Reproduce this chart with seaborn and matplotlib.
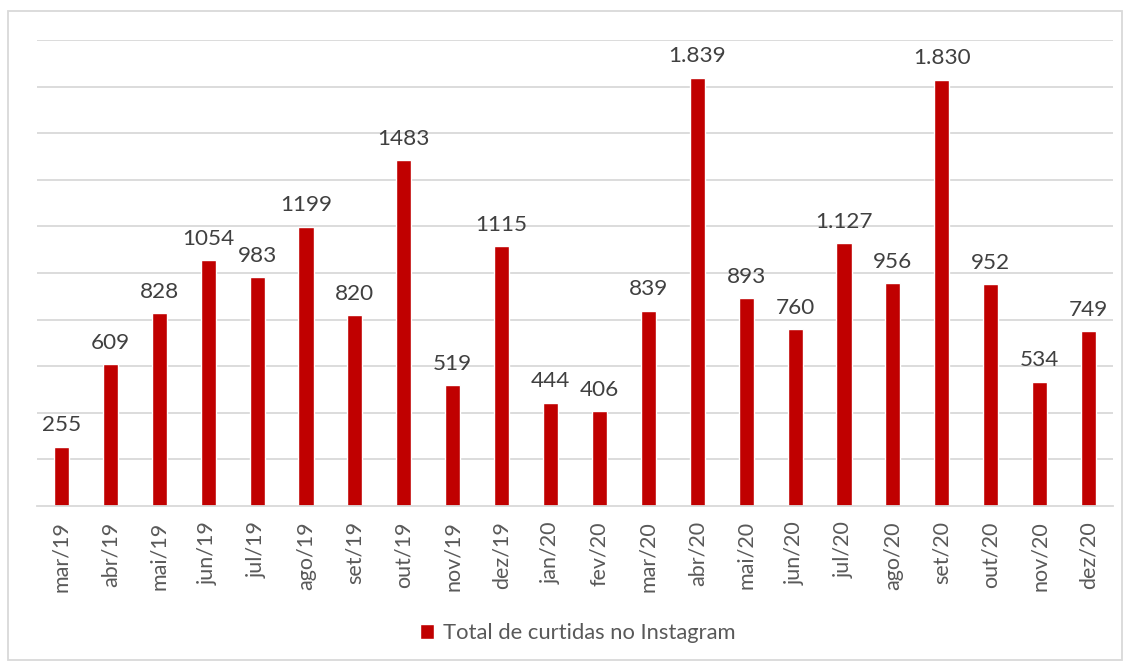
import numpy as np
import pandas as pd
import matplotlib
matplotlib.use("Agg")
import matplotlib.pyplot as plt
from matplotlib.patches import Patch, Rectangle
import seaborn as sns

# monthly data
meses = ["mar/19", "abr/19", "mai/19", "jun/19", "jul/19", "ago/19", "set/19", "out/19",
         "nov/19", "dez/19", "jan/20", "fev/20", "mar/20", "abr/20", "mai/20", "jun/20",
         "jul/20", "ago/20", "set/20", "out/20", "nov/20", "dez/20"]
curtidas = [255, 609, 828, 1054, 983, 1199, 820, 1483, 519, 1115, 444, 406,
            839, 1839, 893, 760, 1127, 956, 1830, 952, 534, 749]
rotulos = ["255", "609", "828", "1054", "983", "1199", "820", "1483", "519", "1115", "444", "406",
           "839", "1.839", "893", "760", "1.127", "956", "1.830", "952", "534", "749"]
serie = "Total de curtidas no Instagram"

df = pd.DataFrame({"mes": meses, "curtidas": curtidas})

sns.set_theme(style="white")
plt.rcParams["font.family"] = ["Lato", "DejaVu Sans"]

vermelho = "#C00000"
cinza = "#D9D9D9"

fig = plt.figure(figsize=(11.31, 6.66), dpi=100)
ax = fig.add_axes([37 / 1131, 160 / 666, 1076 / 1131, 466 / 666])

sns.barplot(data=df, x="mes", y="curtidas", color=vermelho, width=0.31,
            saturation=1, ax=ax)

ax.set_ylim(0, 2000)
ax.set_xlim(-0.5, len(meses) - 0.5)
ax.set_yticks(np.arange(200, 2001, 200))
ax.yaxis.grid(True, color=cinza, linewidth=1.3)
ax.set_axisbelow(True)
ax.tick_params(axis="y", left=False, labelleft=False)

ax.set_xticks(range(len(meses)))
ax.set_xticklabels(meses, rotation=90, fontsize=15.5, color="#595959")
ax.tick_params(axis="x", which="major", length=0, pad=11)
ax.set_xticks(np.arange(-0.5, len(meses), 1), minor=True)
ax.tick_params(axis="x", which="minor", length=5, width=1.3, color=cinza)
ax.set_xlabel("")
ax.set_ylabel("")

for s in ["top", "right", "left"]:
    ax.spines[s].set_visible(False)
ax.spines["bottom"].set_color(cinza)
ax.spines["bottom"].set_linewidth(1.3)

for i, (v, r) in enumerate(zip(curtidas, rotulos)):
    ax.annotate(r, (i, v), xytext=(0, 11), textcoords="offset points",
                ha="center", va="baseline", fontsize=16.2, color="#404040")

fig.legend(handles=[Patch(facecolor=vermelho, label=serie)], loc="center",
           bbox_to_anchor=(578 / 1131, 33 / 666), frameon=False, fontsize=15.8,
           handlelength=0.65, handleheight=0.65, handletextpad=0.4,
           labelcolor="#595959")

fig.patches.append(Rectangle((8 / 1131, 6 / 666), 1114 / 1131, 649 / 666,
                             transform=fig.transFigure, fill=False,
                             edgecolor=cinza, linewidth=1.3))

fig.savefig("out.png", dpi=100)
